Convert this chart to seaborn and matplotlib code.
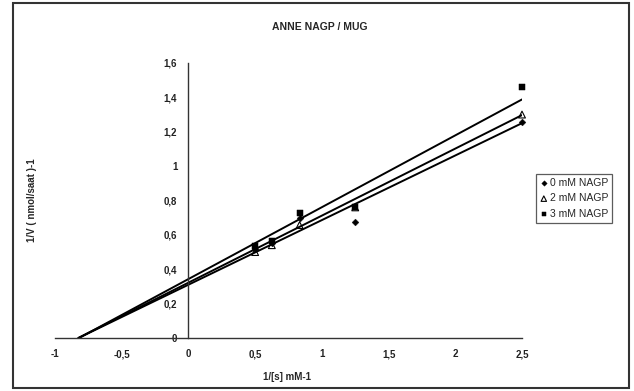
import numpy as np
import pandas as pd
import matplotlib
matplotlib.use("Agg")
import matplotlib.pyplot as plt
import seaborn as sns
from matplotlib.ticker import FuncFormatter
from matplotlib.patches import Rectangle

# Data (Lineweaver-Burk, 1/[s] vs 1/V)
inv_s = [0.5, 0.625, 0.833, 1.25, 2.5]
v_0mM = [0.52, 0.55, 0.70, 0.676, 1.255]
v_2mM = [0.50, 0.54, 0.657, 0.76, 1.30]
v_3mM = [0.535, 0.565, 0.73, 0.765, 1.46]
series_names = ["0 mM NAGP", "2 mM NAGP", "3 mM NAGP"]
# trendline slope / intercept
slopes = [0.376, 0.39, 0.418]
intercepts = [0.31, 0.322, 0.343]
x_ticks = [-1, -0.5, 0, 0.5, 1, 1.5, 2, 2.5]
y_ticks = [0, 0.2, 0.4, 0.6, 0.8, 1, 1.2, 1.4, 1.6]

sns.set_style("white")
plt.rcParams["font.family"] = ["Liberation Sans", "DejaVu Sans"]

fig = plt.figure(figsize=(6.34, 3.91), dpi=100)
ax = fig.add_axes([55 / 634, 1 - 338 / 391, 467 / 634, 275 / 391])

# trend lines, from x-intercept to last point
for m, b in zip(slopes, intercepts):
    x0 = -b / m
    sns.lineplot(x=[x0, 2.5], y=[0, m * 2.5 + b], ax=ax, color="black",
                 linewidth=1.4, legend=False)

# points
sns.scatterplot(x=inv_s, y=v_0mM, ax=ax, marker="D", s=12, color="black",
                edgecolor="black", label=series_names[0], zorder=3, clip_on=False)
sns.scatterplot(x=inv_s, y=v_2mM, ax=ax, marker="^", s=24, facecolor="none",
                edgecolor="black", linewidth=0.8, label=series_names[1], zorder=3,
                clip_on=False)
sns.scatterplot(x=inv_s, y=v_3mM, ax=ax, marker="s", s=20, color="black",
                edgecolor="black", label=series_names[2], zorder=3, clip_on=False)

ax.set_xlim(-1, 2.5)
ax.set_ylim(0, 1.6)
ax.set_xticks(x_ticks)
ax.set_yticks(y_ticks)
fmt = FuncFormatter(lambda v, p: f"{v:g}".replace(".", ","))
ax.xaxis.set_major_formatter(fmt)
ax.yaxis.set_major_formatter(fmt)

ax.spines["left"].set_position(("data", 0))
ax.spines["bottom"].set_position(("data", 0))
ax.spines["top"].set_visible(False)
ax.spines["right"].set_visible(False)
for s in ["left", "bottom"]:
    ax.spines[s].set_color("#333333")
    ax.spines[s].set_linewidth(1.0)
ax.tick_params(axis="both", direction="out", length=3, width=0.9,
               colors="#222222", labelsize=7, pad=5)
for lab in ax.get_xticklabels() + ax.get_yticklabels():
    lab.set_fontweight("bold")
ax.set_xlabel("")
ax.set_ylabel("")
ax.patch.set_alpha(0)

fig.text(320 / 634, 1 - 27 / 391, "ANNE NAGP / MUG", ha="center", va="center",
         fontsize=7.5, fontweight="bold")
fig.text(287 / 634, 1 - 377 / 391, "1/[s] mM-1", ha="center", va="center",
         fontsize=7, fontweight="bold")
fig.text(32 / 634, 1 - 200 / 391, "1/V ( nmol/saat )-1", ha="center", va="center",
         rotation=90, fontsize=7, fontweight="bold")

leg = ax.legend(loc="upper left", bbox_to_anchor=(536 / 634, 1 - 174 / 391),
                bbox_transform=fig.transFigure, frameon=True, fancybox=False,
                prop={"size": 7.5}, handletextpad=0.2, handlelength=0.7,
                borderpad=0.4, labelspacing=0.5, borderaxespad=0,
                markerscale=0.8)
leg.get_frame().set_edgecolor("#333333")
leg.get_frame().set_linewidth(0.9)

# outer chart border
fig.patches.append(Rectangle((13 / 634, 3 / 391), 616 / 634, 385 / 391,
                             transform=fig.transFigure, fill=False,
                             edgecolor="#333333", linewidth=1.5))

fig.savefig("out.png", dpi=100)
